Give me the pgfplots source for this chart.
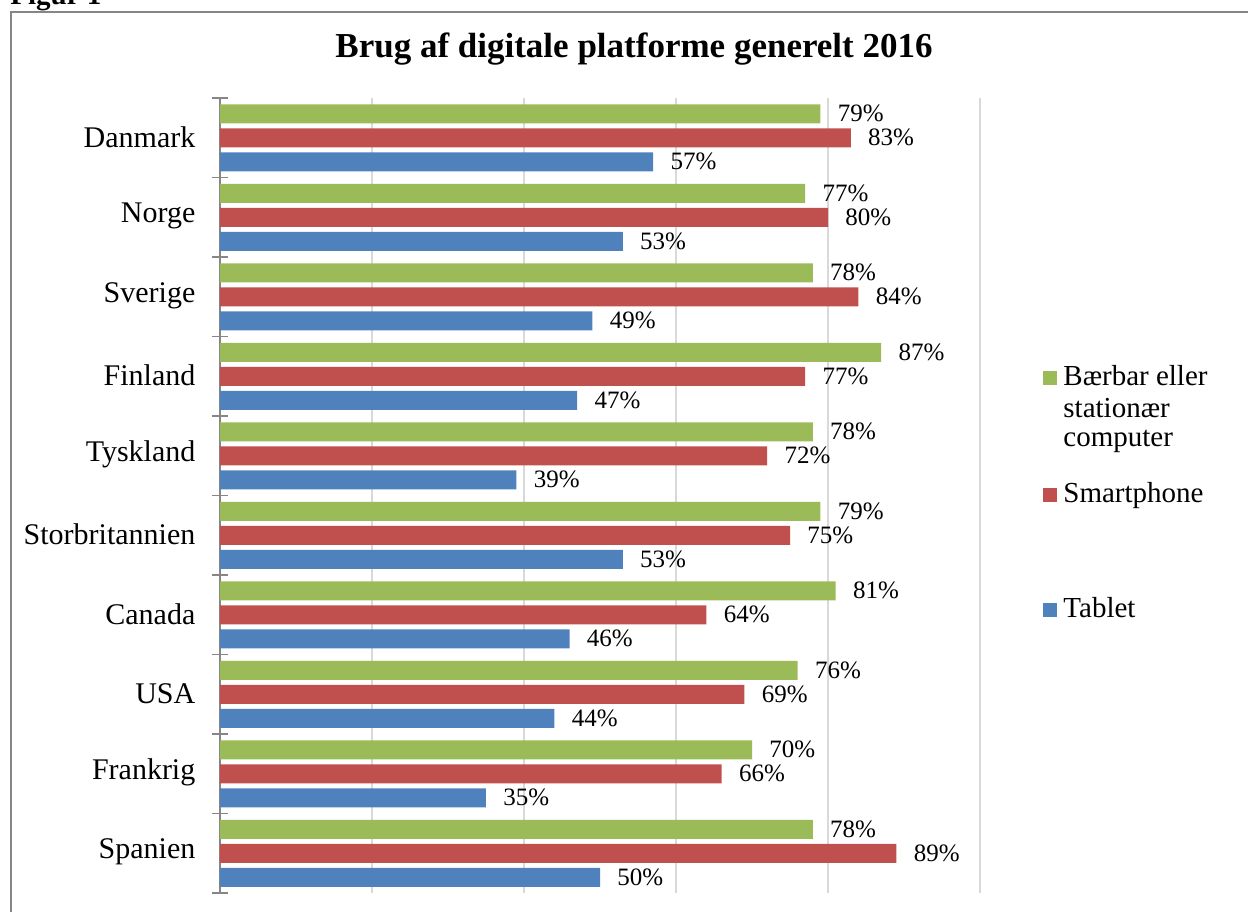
\documentclass[border=0pt]{standalone}
\usepackage{pgfplots}
\pgfplotsset{compat=1.18}
\usepackage{fontspec}
\setmainfont{Liberation Serif}

\definecolor{cgreen}{HTML}{9BBB59}
\definecolor{cred}{HTML}{C0504D}
\definecolor{cblue}{HTML}{4F81BD}
\definecolor{axgray}{HTML}{868686}
\definecolor{gridgray}{HTML}{D9D9D9}

\begin{document}
\begin{tikzpicture}
\begin{axis}[
    at={(0pt,0pt)}, anchor=south west,
    scale only axis, width=380pt, height=397.5pt,
    xbar, bar width=9.5pt,
    xmin=0, xmax=100, ymin=-0.5, ymax=9.5,
    axis x line*=bottom, x axis line style={draw=none},
    axis y line*=left, y axis line style={draw=axgray, line width=0.75pt, -},
    xtick={20,40,60,80,100}, xticklabels={},
    xtick style={draw=none},
    xmajorgrids, major x grid style={draw=gridgray, line width=0.75pt},
    ytick={0,...,9},
    yticklabels={Spanien,Frankrig,USA,Canada,Storbritannien,Tyskland,Finland,Sverige,Norge,Danmark},
    major y tick style={draw=none},
    minor ytick={-0.5,0.5,...,9.5},
    minor tick length=8pt, tick align=center,
    minor y tick style={draw=axgray, line width=0.75pt},
    y tick label style={font=\fontsize{15}{18}\selectfont, inner sep=0pt, anchor=east, xshift=-10pt, yshift=0.5pt},
    /pgf/number format/assume math mode=true,
    point meta=x,
    nodes near coords={\pgfmathprintnumber{\pgfplotspointmeta}\%},
    nodes near coords style={font=\fontsize{12.5}{15}\selectfont, anchor=west, inner sep=0pt, xshift=8.5pt},
    clip=false,
]
% Baerbar eller stationaer computer
\addplot[fill=cgreen, draw=none, bar shift=12pt] coordinates {
    (78,0) (70,1) (76,2) (81,3) (79,4) (78,5) (87,6) (78,7) (77,8) (79,9)
};
% Smartphone
\addplot[fill=cred, draw=none, bar shift=0pt] coordinates {
    (89,0) (66,1) (69,2) (64,3) (75,4) (72,5) (77,6) (84,7) (80,8) (83,9)
};
% Tablet
\addplot[fill=cblue, draw=none, bar shift=-12pt] coordinates {
    (50,0) (35,1) (44,2) (46,3) (53,4) (39,5) (47,6) (49,7) (53,8) (57,9)
};
\end{axis}

% everything else in page coordinates (1px = 0.5pt, origin bottom-left)
\begin{scope}[x=1pt, y=1pt, shift={(-110pt,-9pt)}]
\draw[axgray, line width=1pt] (5.5,-20) |- (640,449.5);
\node[anchor=base west, inner sep=0, font=\fontsize{14.5}{17}\selectfont\bfseries] at (5,453) {Figur 1};
\node[anchor=base, inner sep=0, font=\fontsize{17.5}{20}\selectfont\bfseries] at (317,426.5) {Brug af digitale platforme generelt 2016};
% legend
\begin{scope}[font=\fontsize{14.5}{17}\selectfont]
\fill[cgreen] (521.5,263) rectangle (528.5,270);
\node[anchor=base west, inner sep=0] at (531.5,262.5) {Bærbar eller};
\node[anchor=base west, inner sep=0] at (531.5,246.5) {stationær};
\node[anchor=base west, inner sep=0] at (531.5,232) {computer};
\fill[cred] (521.5,204.5) rectangle (528.5,211.5);
\node[anchor=base west, inner sep=0] at (531.5,204) {Smartphone};
\fill[cblue] (521.5,147) rectangle (528.5,154);
\node[anchor=base west, inner sep=0] at (531.5,146.5) {Tablet};
\end{scope}
\pgfresetboundingbox
\useasboundingbox (0,0) rectangle (624,455.5);
\end{scope}
\end{tikzpicture}
\end{document}
